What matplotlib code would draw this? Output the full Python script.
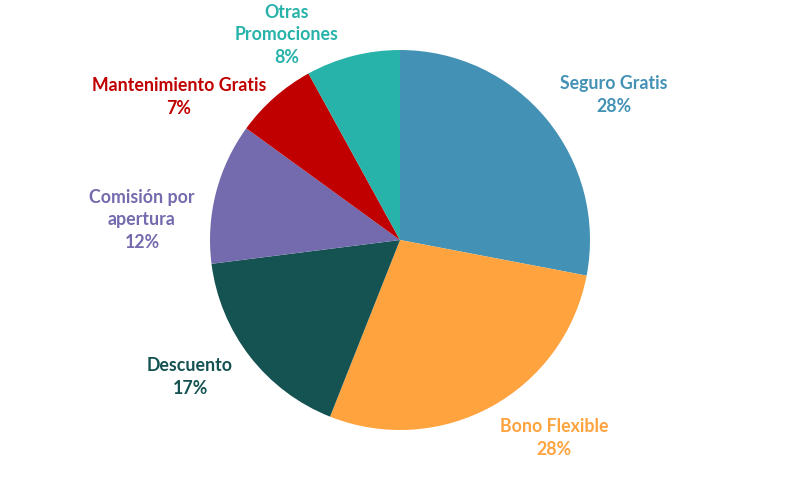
import matplotlib
matplotlib.use("Agg")
import matplotlib.pyplot as plt

categories = ["Seguro Gratis", "Bono Flexible", "Descuento", "Comisión por\napertura",
              "Mantenimiento Gratis", "Otras\nPromociones"]
values = [28, 28, 17, 12, 7, 8]
colors = ["#4392B5", "#FFA33F", "#155252", "#736BAD", "#C00000", "#27B3A9"]
# label centres in pixel coordinates (x, y from top)
label_px = [(614, 95), (554, 438), (190, 377), (142, 220), (179, 97), (287, 35)]

W, H = 800, 479
cx, cy, R = 400, 240, 190

fig = plt.figure(figsize=(W / 100, H / 100), dpi=100)
ax = fig.add_axes([0, 0, 1, 1])
ax.pie(values, colors=colors, startangle=90, counterclock=False, radius=1,
       wedgeprops=dict(linewidth=0))
ax.set_xlim(-cx / R, (W - cx) / R)
ax.set_ylim(-(H - cy) / R, cy / R)
ax.set_aspect("equal")
ax.axis("off")

total = sum(values)
for cat, v, col, (px, py) in zip(categories, values, colors, label_px):
    ax.text((px - cx) / R, (cy - py) / R, f"{cat}\n{round(100 * v / total)}%",
            ha="center", va="center", color=col, fontsize=12.8, fontweight="bold",
            family=["Lato", "DejaVu Sans"], linespacing=1.4)

fig.savefig("out.png", dpi=100)
